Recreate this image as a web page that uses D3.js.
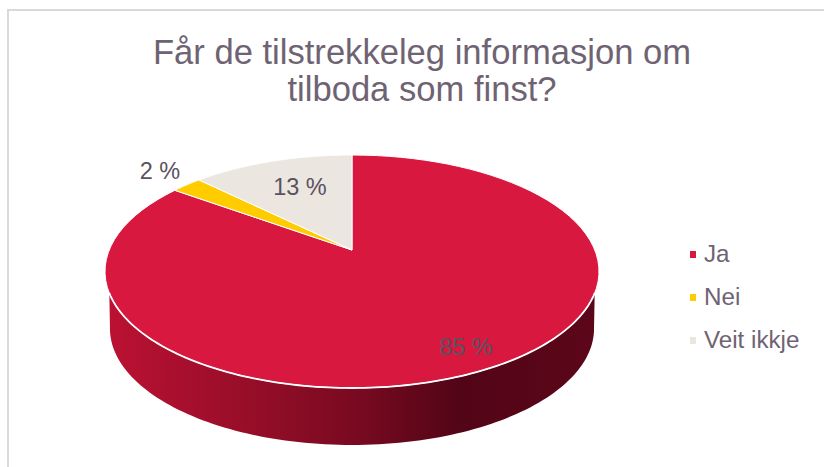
<!DOCTYPE html>
<html><head><meta charset="utf-8">
<script src="https://cdn.jsdelivr.net/npm/d3@7/dist/d3.min.js"></script>
<style>html,body{margin:0;padding:0;background:#fff}svg{display:block}text{font-family:"Liberation Sans",Arial,sans-serif}</style>
</head><body><svg id="c" width="824" height="467"></svg>
<script>
const categories = ["Ja","Nei","Veit ikkje"];
const values = [85,2.4,12.6];
const colors = ["#D9183F","#FFCC00","#EBE7E0"];
const titleLines = ["Får de tilstrekkeleg informasjon om","tilboda som finst?"];

const svg = d3.select("#c");
svg.append("rect").attr("x",8).attr("y",10).attr("width",840).attr("height",480)
  .attr("fill","#fff").attr("stroke","#DBD8DB").attr("stroke-width",2);

const cx=352, apexY=250, topY=155, botY=388, rx=247, k=(500-topY-botY)/(botY-topY);
// projective tilt: disc point -> screen
const B=apexY-topY*(1-k), A=rx*Math.sqrt(1-k*k);
const proj=(a,sx=1,dy=0)=>{const u=Math.sin(a),v=-Math.cos(a),w=1+k*v;return [cx+sx*A*u/w,(apexY+B*v)/w+dy];};
const line=d3.line();
const pie=d3.pie().sort(null).startAngle(0).endAngle(2*Math.PI);
const arcs=pie(values);
const deg=Math.PI/180;
const sweep=(s,e,n)=>d3.range(0,1+1e-6,1/n).map(t=>s+t*(e-s));
const steps=a=>sweep(a.startAngle,a.endAngle,90);

// side wall
const defs=svg.append("defs");
const g=defs.append("linearGradient").attr("id","side").attr("gradientUnits","userSpaceOnUse")
  .attr("x1",106).attr("x2",598).attr("y1",0).attr("y2",0);
[[0,"#BC1133"],[0.25,"#9C0E2A"],[0.5,"#7A0A21"],[0.72,"#520517"],[1,"#5C0619"]]
  .forEach(s=>g.append("stop").attr("offset",s[0]).attr("stop-color",s[1]));
const sideTop=sweep(111*deg,249*deg,120).map(a=>proj(a));
const bottom=sweep(260*deg,100*deg,120).map(a=>proj(a,0.98,57));
svg.append("path").attr("d",line(sideTop.concat(bottom))+"Z").attr("fill","url(#side)");

// top slices
svg.selectAll("path.slice").data(arcs).join("path").attr("class","slice")
  .attr("d",d=>line([[cx,apexY]].concat(steps(d).map(a=>proj(a))))+"Z")
  .attr("fill",(d,i)=>colors[i]).attr("stroke","#fff").attr("stroke-width",1).attr("stroke-linejoin","round");
// bright rim along the front edge
svg.append("path").attr("d",line(sideTop)).attr("fill","none").attr("stroke","#fff").attr("stroke-width",1.8);

const labelColor="#5B5160";
const labels=svg.append("g").attr("fill",labelColor).attr("font-size",23.5);
const labelPos=[[466,355],[160,179],[300,195]];
labels.selectAll("text").data(values).join("text")
  .attr("x",(d,i)=>labelPos[i][0]).attr("y",(d,i)=>labelPos[i][1]).attr("text-anchor","middle")
  .text(d=>d3.format(".0f")(d)+" %");

svg.append("g").attr("fill","#6F6373").attr("font-size",34.6).attr("text-anchor","middle")
  .selectAll("text").data(titleLines).join("text")
  .attr("x",422).attr("y",(d,i)=>64+i*37).text(d=>d);

const ly=d3.scalePoint().domain(categories).range([254,340]);
const leg=svg.append("g").selectAll("g").data(categories).join("g")
  .attr("transform",d=>`translate(0,${ly(d)})`);
leg.append("rect").attr("x",690).attr("y",-3).attr("width",6).attr("height",7).attr("fill",(d,i)=>colors[i]);
leg.append("text").attr("x",704).attr("y",8).attr("font-size",24.2).attr("fill","#6F6373").text(d=>d);
</script></body></html>
